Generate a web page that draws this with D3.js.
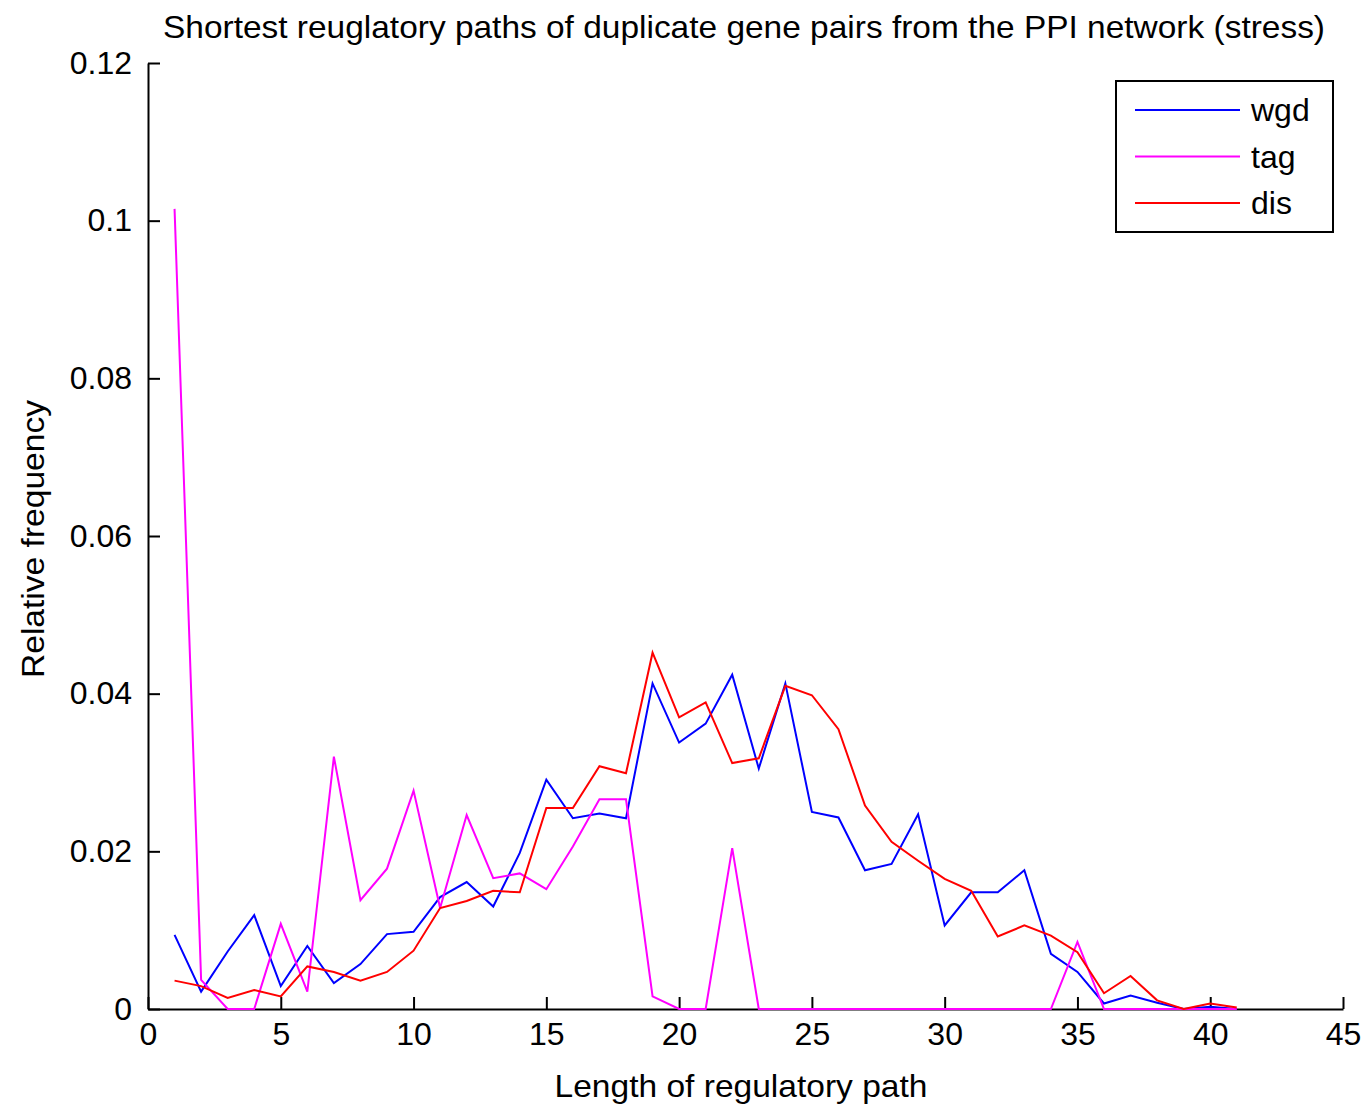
<!DOCTYPE html>
<html>
<head>
<meta charset="utf-8">
<script src="https://cdn.jsdelivr.net/npm/d3@7"></script>
<style>
  body { margin: 0; background: #fff; }
  text { font-family: "Liberation Sans", Arial, sans-serif; }
</style>
</head>
<body>
<div id="chart"></div>
<script>
// Path lengths (x values)
var pathLength = d3.range(1, 42);

// Relative frequency per series
var wgdValues = [0.0094, 0.0022, 0.0073, 0.0119, 0.0029, 0.0080, 0.0033, 0.0057, 0.0095, 0.0098,
                 0.0142, 0.0161, 0.0130, 0.0198, 0.0291, 0.0242, 0.0248, 0.0242, 0.0413, 0.0338,
                 0.0362, 0.0424, 0.0305, 0.0413, 0.0250, 0.0243, 0.0176, 0.0184, 0.0247, 0.0106,
                 0.0148, 0.0148, 0.0176, 0.0070, 0.0047, 0.0007, 0.0017, 0.0008, 0.0000, 0.0003,
                 0.0000];
var tagValues = [0.1015, 0.0037, 0.0000, 0.0000, 0.0108, 0.0022, 0.0320, 0.0138, 0.0178, 0.0277,
                 0.0128, 0.0246, 0.0166, 0.0172, 0.0152, 0.0206, 0.0266, 0.0266, 0.0016, 0.0000,
                 0.0000, 0.0204, 0.0000, 0.0000, 0.0000, 0.0000, 0.0000, 0.0000, 0.0000, 0.0000,
                 0.0000, 0.0000, 0.0000, 0.0000, 0.0085, 0.0000, 0.0000, 0.0000, 0.0000, 0.0000,
                 0.0000];
var disValues = [0.0036, 0.0029, 0.0014, 0.0024, 0.0016, 0.0054, 0.0047, 0.0036, 0.0047, 0.0074,
                 0.0128, 0.0137, 0.0150, 0.0148, 0.0255, 0.0255, 0.0308, 0.0299, 0.0452, 0.0370,
                 0.0389, 0.0312, 0.0318, 0.0410, 0.0398, 0.0355, 0.0258, 0.0212, 0.0188, 0.0165,
                 0.0150, 0.0092, 0.0106, 0.0093, 0.0072, 0.0020, 0.0042, 0.0011, 0.0000, 0.0007,
                 0.0002];

var seriesNames = ["wgd", "tag", "dis"];
var seriesColors = ["#0000ff", "#ff00ff", "#ff0000"];
var xTicks = [0, 5, 10, 15, 20, 25, 30, 35, 40, 45];
var yTicks = [0, 0.02, 0.04, 0.06, 0.08, 0.1, 0.12];

var width = 1370;
var height = 1106;
var plotLeft = 148;
var plotRight = 1343;
var plotTop = 63;
var plotBottom = 1009;

var svg = d3.select("#chart").append("svg")
  .attr("width", width)
  .attr("height", height);

var xScale = d3.scaleLinear().domain([0, 45]).range([plotLeft, plotRight]);
var yScale = d3.scaleLinear().domain([0, 0.12]).range([plotBottom, plotTop]);

// Lines, in plotting order
var allSeries = [wgdValues, tagValues, disValues];
var line = d3.line()
  .x(function(d, i) { return xScale(pathLength[i]); })
  .y(function(d) { return yScale(d); });

// X axis, ticks pointing inward
var xAxis = svg.append("g")
  .attr("transform", "translate(0," + plotBottom + ")")
  .call(d3.axisBottom(xScale).tickValues(xTicks).tickSizeInner(-12).tickSizeOuter(0).tickPadding(13));
xAxis.selectAll("text").attr("font-size", "32px").attr("fill", "#000");

// Y axis
var yAxis = svg.append("g")
  .attr("transform", "translate(" + plotLeft + ",0)")
  .call(d3.axisLeft(yScale).tickValues(yTicks).tickSizeInner(-12).tickSizeOuter(0).tickPadding(16)
    .tickFormat(function(d) { return d === 0 ? "0" : String(+d.toFixed(2)); }));
yAxis.selectAll("text").attr("font-size", "32px").attr("fill", "#000");

svg.selectAll(".domain, .tick line")
  .attr("stroke", "#000")
  .attr("stroke-width", 2);

allSeries.forEach(function(values, i) {
  svg.append("path")
    .attr("d", line(values))
    .attr("fill", "none")
    .attr("stroke", seriesColors[i])
    .attr("stroke-width", 2);
});

// Title and axis labels
svg.append("text")
  .attr("x", 744)
  .attr("y", 38)
  .attr("font-size", "32px")
  .attr("text-anchor", "middle")
  .attr("textLength", 1162)
  .attr("lengthAdjust", "spacingAndGlyphs")
  .text("Shortest reuglatory paths of duplicate gene pairs from the PPI network (stress)");

svg.append("text")
  .attr("x", 741)
  .attr("y", 1097)
  .attr("font-size", "32px")
  .attr("text-anchor", "middle")
  .attr("textLength", 373)
  .attr("lengthAdjust", "spacingAndGlyphs")
  .text("Length of regulatory path");

svg.append("text")
  .attr("transform", "translate(44,539) rotate(-90)")
  .attr("font-size", "32px")
  .attr("text-anchor", "middle")
  .attr("textLength", 278)
  .attr("lengthAdjust", "spacingAndGlyphs")
  .text("Relative frequency");

// Legend
var legend = svg.append("g");
legend.append("rect")
  .attr("x", 1116)
  .attr("y", 81)
  .attr("width", 217)
  .attr("height", 151)
  .attr("fill", "#fff")
  .attr("stroke", "#000")
  .attr("stroke-width", 2);

seriesNames.forEach(function(name, i) {
  var rowY = 110 + i * 46.5;
  legend.append("line")
    .attr("x1", 1135)
    .attr("x2", 1240)
    .attr("y1", rowY)
    .attr("y2", rowY)
    .attr("stroke", seriesColors[i])
    .attr("stroke-width", 2);
  legend.append("text")
    .attr("x", 1251)
    .attr("y", rowY)
    .attr("dy", "0.35em")
    .attr("font-size", "32px")
    .text(name);
});
</script>
</body>
</html>
